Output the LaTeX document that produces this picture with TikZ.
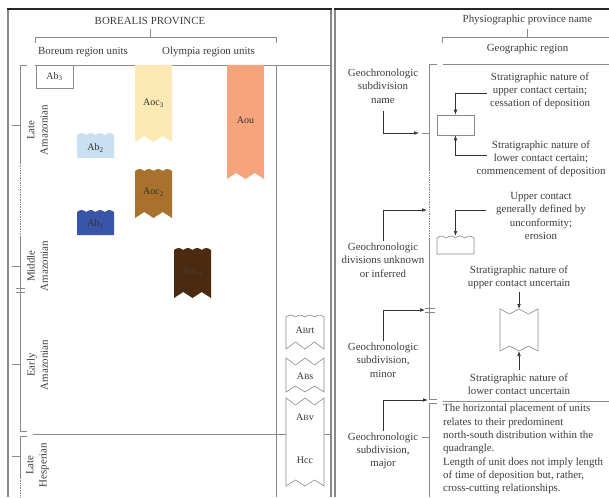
\documentclass[tikz,border=0pt]{standalone}
\usepackage{fontspec}
\setmainfont{Liberation Serif}
\usepackage{xcolor}
\usepackage{tikz}
\usetikzlibrary{positioning, arrows.meta}

\definecolor{abone}{HTML}{3A55A8}
\definecolor{abtwo}{HTML}{C9DFF2}
\definecolor{aocone}{HTML}{4B2A12}
\definecolor{aoctwo}{HTML}{A9712C}
\definecolor{aocthree}{HTML}{FDE9B4}
\definecolor{aoucol}{HTML}{F7A47C}
\definecolor{inkgray}{HTML}{3C3C3C}
\definecolor{rulegray}{HTML}{8A8A8A}

\begin{document}
\begin{tikzpicture}[x=1pt, y=-1pt, font=\fontsize{10.9}{13.3}\selectfont,
  txt/.style={text=inkgray, inner sep=0pt, align=center},
  rule/.style={draw=rulegray, line width=0.7pt},
  frame/.style={draw=rulegray, line width=1.3pt},
  arr/.style={draw=black!80, line width=0.6pt, -{Latex[length=5pt,width=3.6pt]}},
  unitlbl/.style={text=black!80, inner sep=0pt, font=\fontsize{10}{12}\selectfont},
  legbox/.style={draw=rulegray, line width=0.6pt, fill=white}]
  \useasboundingbox (0,0) rectangle (609,497);

  % panel frames
  \draw[frame] (8,9) -- (8,497);
  \draw[frame] (331,9) -- (331,497);
  \draw[frame] (335,9) -- (335,497);
  \draw[black!85, line width=1.2pt] (7,9) -- (332,9) (334,9) -- (612,9);

  % left panel: headings
  \node[txt] (prov) at (150,21) {BOREALIS PROVINCE};
  \draw[rule] (35,43) -- (35,37) -- (276,37) -- (276,43) (150,37) -- ([yshift=-4pt]prov.south);
  \node[txt] (boreum) at (83,52) {Boreum region units};
  \node[txt] (olympia) at (208.5,52) {Olympia region units};
  \draw[rule] (35,65) -- (331,65);
  \draw[rule] (276,65) -- (276,497);

  % time axis
  \draw[rule] (27,65) -- (20,65) -- (20,163);
  \draw[rule, densely dotted] (20,163) -- (20,237);
  \draw[rule] (20,237) -- (20,431) -- (27,431);
  \draw[rule] (27,436) -- (20,436) -- (20,478);
  \draw[rule, densely dotted] (20,478) -- (20,497);
  \foreach \y in {288,292} \draw[rule] (16,\y) -- (25,\y);
  \foreach \y in {125,266,364,456} \draw[rule] (12,\y) -- (20,\y);
  \draw[rule] (33,434) -- (331,434);
  \foreach \y/\nm/\a/\b in {130/late/Late/Amazonian, 266/middle/Middle/Amazonian,
      365/early/Early/Amazonian, 465/hesp/Late/Hesperian}
    \node[txt, rotate=90] (\nm) at (37.5,\y) {\a\\\b};

  % Boreum units
  \draw[legbox] (36,65) rectangle (73,88);
  \node[unitlbl] (ab3) at (54.5,76.5) {Ab\textsubscript{3}};
  \fill[abtwo] (77,135) \foreach \k in {1,...,4} {sin ++(4.625,-2) cos ++(4.625,2)}
    -- (114,158) -- (77,158) -- cycle;
  \node[unitlbl] (ab2) at (95.5,148) {Ab\textsubscript{2}};
  \fill[abone] (77,212) \foreach \k in {1,...,4} {sin ++(4.625,-2) cos ++(4.625,2)}
    -- (114,235) -- (77,235) -- cycle;
  \node[unitlbl] (ab1) at (95.5,224) {Ab\textsubscript{1}};

  % Olympia units
  \fill[aocthree] (135,65) -- (172,65) -- (172,142) -- (162.75,136) -- (153.5,142)
    -- (144.25,136) -- (135,142) -- cycle;
  \node[unitlbl] (aoc3) at (153.5,103) {Aoc\textsubscript{3}};
  \fill[aoctwo] (135,171) \foreach \k in {1,...,4} {sin ++(4.625,-2) cos ++(4.625,2)}
    -- (172,218) -- (162.75,212) -- (153.5,218) -- (144.25,212) -- (135,218) -- cycle;
  \node[unitlbl] (aoc2) at (153.5,192) {Aoc\textsubscript{2}};
  \fill[aocone] (174,250) \foreach \k in {1,...,4} {sin ++(4.625,-2) cos ++(4.625,2)}
    -- (211,298) -- (201.75,292) -- (192.5,298) -- (183.25,292) -- (174,298) -- cycle;
  \node[unitlbl, text=black!75] (aoc1) at (192.5,272) {Aoc\textsubscript{1}};
  \fill[aoucol] (227,65) -- (264,65) -- (264,179) -- (254.75,173) -- (245.5,179)
    -- (236.25,173) -- (227,179) -- cycle;
  \node[unitlbl] (aou) at (245.5,120) {Aou};

  % plains units
  \draw[legbox] (286,317) \foreach \k in {1,...,4} {sin ++(4.75,-2) cos ++(4.75,2)}
    -- (324,349) -- (314.5,342) -- (305,349) -- (295.5,342) -- (286,349) -- cycle;
  \node[unitlbl] (abrt) at (305,330) {A{\fontsize{8}{9}\selectfont B}rt};
  \draw[legbox] (286,358) -- (295.5,365) -- (305,358) -- (314.5,365) -- (324,358)
    -- (324,392) -- (314.5,386) -- (305,392) -- (295.5,386) -- (286,392) -- cycle;
  \node[unitlbl] (abs) at (305,376) {A{\fontsize{8}{9}\selectfont B}s};
  \draw[legbox] (286,434) -- (286,398) -- (295.5,405) -- (305,398) -- (314.5,405)
    -- (324,398) -- (324,434);
  \node[unitlbl] (abv) at (305,417) {A{\fontsize{8}{9}\selectfont B}v};
  \draw[legbox] (286,434) -- (286,486) -- (295.5,480) -- (305,486) -- (314.5,480)
    -- (324,486) -- (324,434);
  \node[unitlbl] (hcc) at (305,460) {Hcc};

  % right panel: headings
  \node[txt] (physio) at (527.5,20) {Physiographic province name};
  \draw[rule] (442,43) -- (442,37) -- (612,37) (527.5,37) -- ([yshift=-4pt]physio.south);
  \node[txt] (georeg) at (527.5,49) {Geographic region};
  \draw[rule] (443,64) -- (612,64);

  % legend axis
  \draw[rule] (437,64) -- (429,64) -- (429,170);
  \draw[rule, densely dotted] (429,170) -- (429,238);
  \draw[rule] (429,238) -- (429,399) -- (437,399);
  \draw[rule] (437,403) -- (429,403) -- (429,497);
  \foreach \y in {308,312} \draw[rule] (425,\y) -- (435,\y);
  \foreach \y in {133,437} \draw[rule] (422,\y) -- (429,\y);
  \draw[rule] (443,401) -- (612,401);

  % axis labels
  \node[txt] (namelbl) at (383,86) {Geochronologic\\subdivision\\name};
  \node[txt] (unklbl) at (383,260) {Geochronologic\\divisions unknown\\or inferred};
  \node[txt] (minorlbl) at (383,360) {Geochronologic\\subdivision,\\minor};
  \node[txt] (majorlbl) at (383,451) {Geochronologic\\subdivision,\\major};
  \coordinate (nameend) at (419,133);
  \coordinate (unkend) at (427,210);
  \coordinate (minorend) at (425,310);
  \coordinate (majorend) at (428,400);
  \draw[arr] ([yshift=-8pt]namelbl.south) |- (nameend);
  \draw[arr] ([yshift=2pt]unklbl.north) |- (unkend);
  \draw[arr] ([yshift=2pt]minorlbl.north) |- (minorend);
  \draw[arr] ([yshift=2pt]majorlbl.north) |- (majorend);

  % contact certain
  \node[legbox, minimum width=37pt, minimum height=20pt, inner sep=0pt] (certbox) at (455.5,125) {};
  \node[txt] (ucert) at (540,91) {Stratigraphic nature of\\upper contact certain;\\cessation of deposition};
  \node[txt] (lcert) at (541,159) {Stratigraphic nature of\\lower contact certain;\\commencement of deposition};
  \coordinate (ucertA) at (487,93);
  \coordinate (lcertA) at (487,155);
  \draw[arr] (ucertA) -| (certbox.north);
  \draw[arr] (lcertA) -| (certbox.south);

  % unconformity
  \draw[legbox] (437,238) \foreach \k in {1,...,4} {sin ++(4.625,-2) cos ++(4.625,2)}
    -- (474,254) -- (437,254) -- cycle;
  \coordinate (wavetop) at (455.5,236);
  \node[txt] (uncf) at (541,216) {Upper contact\\generally defined by\\unconformity;\\erosion};
  \coordinate (uncfA) at (486,210);
  \draw[arr] (uncfA) -| (wavetop);

  % contact uncertain
  \draw[legbox] (500,309) -- (509.5,314) -- (519,309) -- (528.5,314) -- (538,309)
    -- (538,351) -- (528.5,346) -- (519,351) -- (509.5,346) -- (500,351) -- cycle;
  \coordinate (uncA) at (519,309);
  \coordinate (uncB) at (519,351);
  \node[txt] (uuncert) at (519,277) {Stratigraphic nature of\\upper contact uncertain};
  \node[txt] (luncert) at (519,384) {Stratigraphic nature of\\lower contact uncertain};
  \draw[arr] ([yshift=-3pt]uuncert.south) -- (uncA);
  \draw[arr] ([yshift=3pt]luncert.north) -- (uncB);

  % note
  \node[txt, align=left, anchor=north west] (note) at (443,404) {The horizontal placement of units\\relates to their predominent\\north-south distribution within the\\quadrangle.\\Length of unit does not imply length\\of time of deposition but, rather,\\cross-cutting relationships.};
\end{tikzpicture}
\end{document}
